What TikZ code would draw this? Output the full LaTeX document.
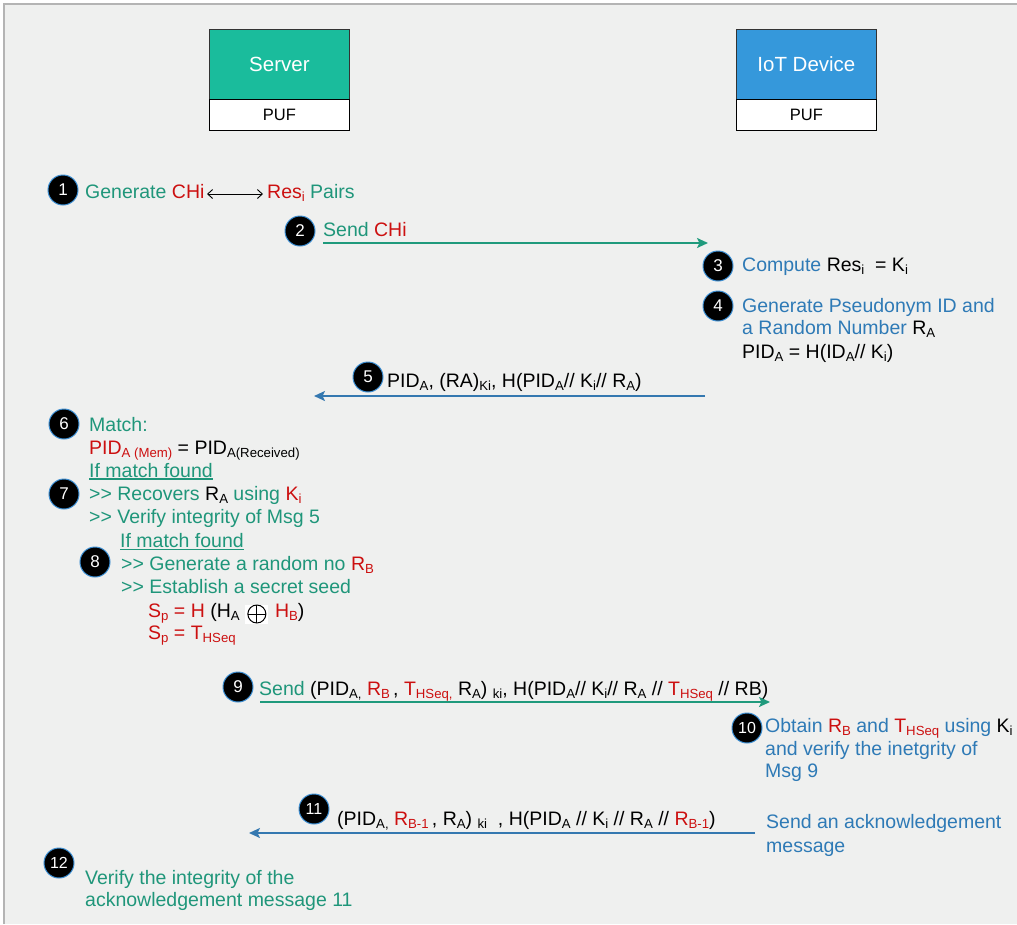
\documentclass[tikz,border=0pt]{standalone}
\usepackage{fontspec}
\setmainfont{Liberation Sans}
\usetikzlibrary{arrows.meta,calc}
\definecolor{bgc}{HTML}{EFF0EF}
\definecolor{framec}{HTML}{B4B4B4}
\definecolor{tgreen}{HTML}{1F967A}
\definecolor{tred}{HTML}{CC1010}
\definecolor{tblue}{HTML}{2E7AB6}
\definecolor{agreen}{HTML}{1F9A7C}
\definecolor{ablue}{HTML}{3478B0}
\definecolor{servc}{HTML}{1ABC9C}
\definecolor{iotc}{HTML}{3598DB}
\definecolor{badgec}{HTML}{3C8ED2}
\newcommand\sbs[1]{\raisebox{-3pt}{\fontsize{13.2}{14}\selectfont #1}}
\newcommand\mainf{\fontsize{19.5}{23}\selectfont}
\newcommand\gtgt{{>}{>}}
\begin{document}
\begin{tikzpicture}[x=1pt,y=-1pt,
  badge/.style={circle,fill=black,draw=badgec,line width=1pt,minimum size=30pt,inner sep=0pt,text=white,font=\fontsize{17}{17}\selectfont},
  badgetwo/.style={badge,font=\fontsize{16}{16}\selectfont},
  txt/.style={anchor=base west,inner sep=0pt,font=\mainf},
  topbox/.style={draw=black!80,line width=0.8pt,minimum width=140pt,minimum height=70pt,anchor=north west,inner sep=0pt,text=white,font=\fontsize{20.5}{21}\selectfont},
  pufbox/.style={draw=black,line width=0.8pt,fill=white,minimum width=140pt,minimum height=31pt,anchor=north west,inner sep=0pt,font=\fontsize{16.5}{17}\selectfont},
  garrow/.style={draw=agreen,line width=2pt,-{Stealth[length=11pt,width=10pt,inset=2.5pt]}},
  barrow/.style={draw=ablue,line width=2pt,-{Stealth[length=11pt,width=10pt,inset=2.5pt]}},
  uline/.style={draw=tgreen,line width=1.3pt},
  xorsym/.style={circle,draw=black,line width=1pt,minimum size=18pt,inner sep=0pt,
    path picture={\draw[line width=1pt] (path picture bounding box.north) -- (path picture bounding box.south)
      (path picture bounding box.west) -- (path picture bounding box.east);}}]
\useasboundingbox (0,0) rectangle (1017,924);
\fill[white] (0,0) rectangle (1017,924);
\fill[bgc] (4,4) rectangle (1017,924);
\draw[framec,line width=1.2pt] (4,924) -- (4,4) -- (1017,4);

% participants
\node[topbox,fill=servc] (server) at (209,29) {Server};
\node[pufbox] (spuf) at (209,99) {PUF};
\node[topbox,fill=iotc] (iot) at (736,29) {IoT Device};
\node[pufbox] (ipuf) at (736,99) {PUF};

% step 1
\node[badge] (b1) at (63,190) {1};
\node[txt] (t1a) at (85,198) {\color{tgreen}Generate \color{tred}CHi};
\coordinate (p1a) at (207,194);
\coordinate (p1b) at (263,194);
\draw[black,line width=0.9pt,{Straight Barb[length=5pt,width=9pt]}-{Straight Barb[length=5pt,width=9pt]}] (p1a) -- (p1b);
\node[txt] (t1b) at (267,198) {\color{tred}Res\sbs{i} \color{tgreen}Pairs};

% step 2
\node[badge] (b2) at (300,231) {2};
\node[txt] (t2) at (323,236) {\color{tgreen}Send \color{tred}CHi};
\coordinate (a2s) at (323,243);
\coordinate (a2e) at (708,243);
\draw[garrow] (a2s) -- (a2e);

% step 3
\node[badge] (b3) at (718,266) {3};
\node[txt] (t3) at (742,271) {\color{tblue}Compute \color{black}Res\sbs{i}\ \ = K\sbs{i}};

% step 4
\node[badge] (b4) at (718,306) {4};
\node[txt] (t4a) at (742,312) {\color{tblue}Generate Pseudonym ID and};
\node[txt] (t4b) at (742,334) {\color{tblue}a Random Number \color{black}R\sbs{A}};
\node[txt] (t4c) at (742,358) {PID\sbs{A} = H(ID\sbs{A}// K\sbs{i})};

% step 5
\node[badge] (b5) at (368,377) {5};
\node[txt] (t5) at (387,387) {PID\sbs{A}, (RA)\sbs{Ki}, H(PID\sbs{A}// K\sbs{i}// R\sbs{A})};
\coordinate (a5s) at (705,396);
\coordinate (a5e) at (314,396);
\draw[barrow] (a5s) -- (a5e);

% step 6
\node[badge] (b6) at (64,424) {6};
\node[txt] (t6a) at (89,431) {\color{tgreen}Match:};
\node[txt] (t6b) at (89,454) {\color{tred}PID\sbs{A (Mem)} \color{black}= PID\sbs{A(Received)}};
\node[txt] (t6c) at (89,477) {\color{tgreen}If match found};
\draw[uline] ([yshift=-2pt]t6c.base west) -- ([yshift=-2pt]t6c.base east);

% step 7
\node[badge] (b7) at (64,494) {7};
\node[txt] (t7a) at (89,500) {\color{tgreen}\gtgt\ Recovers \color{black}R\sbs{A} \color{tgreen}using \color{tred}K\sbs{i}};
\node[txt] (t7b) at (89,523) {\color{tgreen}\gtgt\ Verify integrity of Msg 5};

% step 8
\node[txt] (t8a) at (120,547) {\color{tgreen}If match found};
\draw[uline] ([yshift=-2.5pt]t8a.base west) -- ([yshift=-2.5pt]t8a.base east);
\node[badge] (b8) at (95,562) {8};
\node[txt] (t8b) at (121,570) {\color{tgreen}\gtgt\ Generate a random no \color{tred}R\sbs{B}};
\node[txt] (t8c) at (121,593) {\color{tgreen}\gtgt\ Establish a secret seed};
\node[txt] (t8d) at (148,617) {\color{tred}S\sbs{p} = H \color{black}(H\sbs{A}};
\coordinate (oc) at ($(t8d.base east)+(17,-3)$);
\fill[white] ($(oc)+(-11.5,-9.5)$) rectangle ($(oc)+(11.5,9.5)$);
\node[xorsym] (ox) at (oc) {};
\node[txt] (t8f) at ($(t8d.base east)+(35,0)$) {\color{tred}H\sbs{B}\color{black})};
\node[txt] (t8e) at (148,639) {\color{tred}S\sbs{p} = T\sbs{HSeq}};

% step 9
\node[badge] (b9) at (238,687) {9};
\node[txt] (t9) at (259,695) {\color{tgreen}Send \color{black}(PID\sbs{A,} \color{tred}R\sbs{B}\color{black}\,, \color{tred}T\sbs{HSeq,} \color{black}R\sbs{A}) \sbs{ki}, H(PID\sbs{A}// K\sbs{i}// R\sbs{A} // \color{tred}T\sbs{HSeq} \color{black}// RB)};
\coordinate (a9s) at (260,702);
\coordinate (a9e) at (770,702);
\draw[garrow] (a9s) -- (a9e);

% step 10
\node[badgetwo] (b10) at (747,728) {10};
\node[txt] (t10a) at (765,732) {\color{tblue}Obtain \color{tred}R\sbs{B} \color{tblue}and \color{tred}T\sbs{HSeq} \color{tblue}using \color{black}K\sbs{i}};
\node[txt] (t10b) at (765,755) {\color{tblue}and verify the inetgrity of};
\node[txt] (t10c) at (765,777) {\color{tblue}Msg 9};

% step 11
\node[badgetwo] (b11) at (314,809) {11};
\node[txt] (t11) at (337,825) {(PID\sbs{A,} \color{tred}R\sbs{B-1}\color{black}\,, R\sbs{A}) \sbs{ki}\ \ , H(PID\sbs{A} // K\sbs{i} // R\sbs{A} // \color{tred}R\sbs{B-1}\color{black})};
\coordinate (a11s) at (755,833);
\coordinate (a11e) at (249,833);
\draw[barrow] (a11s) -- (a11e);
\node[txt] (t11b) at (766,828) {\color{tblue}Send an acknowledgement};
\node[txt] (t11c) at (766,852) {\color{tblue}message};

% step 12
\node[badgetwo] (b12) at (59,863) {12};
\node[txt] (t12a) at (85,884) {\color{tgreen}Verify the integrity of the};
\node[txt] (t12b) at (85,906) {\color{tgreen}acknowledgement message 11};
\end{tikzpicture}
\end{document}
